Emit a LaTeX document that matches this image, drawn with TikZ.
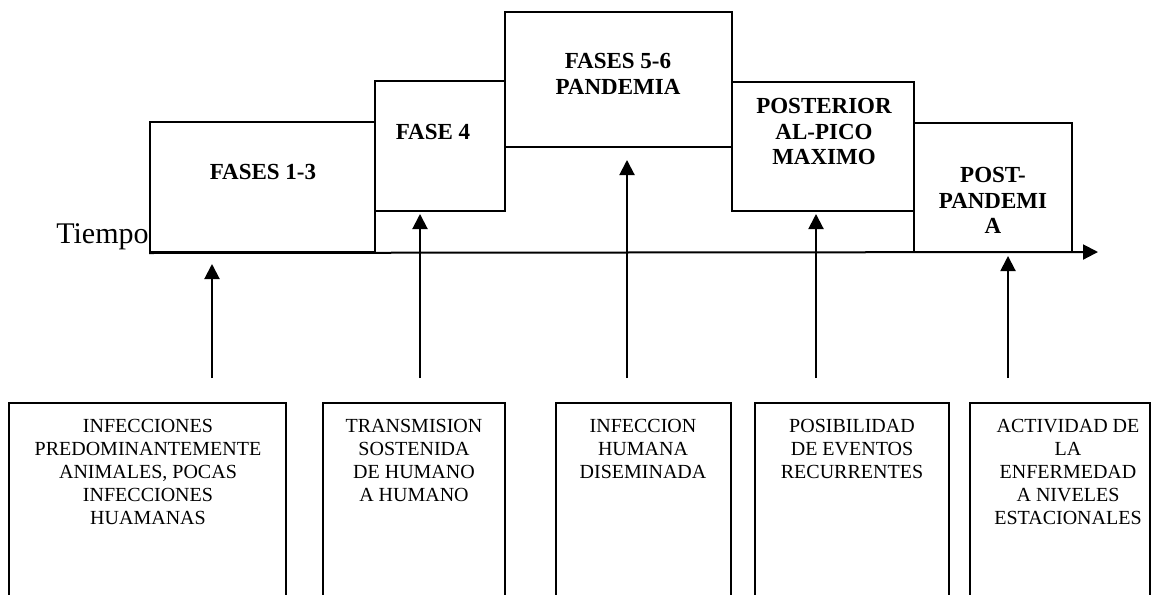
\documentclass[tikz,border=0pt]{standalone}
\usepackage{fontspec}
\setmainfont{Liberation Serif}
\usetikzlibrary{arrows.meta}

\begin{document}
\begin{tikzpicture}[x=0.5pt, y=-0.5pt,
    phase/.style={draw, line width=1pt, inner sep=0pt},
    phasetxt/.style={anchor=north, inner sep=0pt, align=center, font=\fontsize{11.5}{12.75}\selectfont\bfseries},
    note/.style={draw, line width=1pt, inner sep=0pt, anchor=north, minimum height=110pt},
    notetxt/.style={anchor=north, inner sep=0pt, align=center, font=\fontsize{10}{11.5}\selectfont},
    uparr/.style={line width=1pt, -{Triangle[length=7.5pt, width=7.5pt]}}]
    \clip (0,0) rectangle (1154,594);

    % Phase boxes along the time axis
    \node[phase, minimum width=112.5pt, minimum height=65pt] (f13) at (262.5,187) {};
    \node[phase, minimum width=65pt, minimum height=65pt] (f4) at (440,146) {};
    \node[phase, minimum width=113.5pt, minimum height=67.5pt] (f56) at (618.5,79.5) {};
    \node[phase, minimum width=91pt, minimum height=64.5pt] (post) at (823,146.5) {};
    \node[phase, minimum width=79pt, minimum height=64.5pt] (pp) at (993,187.5) {};

    \node[phasetxt] (f13t) at (263,164) {FASES 1-3};
    \node[phasetxt] (f4t) at (433,124) {FASE 4};
    \node[phasetxt] (f56t) at (618,53) {FASES 5-6\\PANDEMIA};
    \node[phasetxt] (postt) at (824,98) {POSTERIOR\\AL-PICO\\MAXIMO};
    \node[phasetxt] (ppt) at (993,167) {POST-\\PANDEMI\\A};

    % Timeline
    \node[anchor=base east, inner sep=0pt, font=\fontsize{15}{18}\selectfont] (tiempo) at (149,243) {Tiempo};
    \coordinate (tend) at (1098,252);
    \draw[uparr] (f13.south west) -- (tend);

    % Description boxes
    \node[note, minimum width=138.5pt] (b1) at (147.5,402) {};
    \node[note, minimum width=91pt] (b2) at (414,402) {};
    \node[note, minimum width=87.5pt] (b3) at (643.5,402) {};
    \node[note, minimum width=97pt] (b4) at (852,402) {};
    \node[note, minimum width=90pt] (b5) at (1060,402) {};

    \node[notetxt] (b1t) at (148,419) {INFECCIONES\\PREDOMINANTEMENTE\\ANIMALES, POCAS\\INFECCIONES\\HUAMANAS};
    \node[notetxt] (b2t) at (414,419) {TRANSMISION\\SOSTENIDA\\DE HUMANO\\A HUMANO};
    \node[notetxt] (b3t) at (643,419) {INFECCION\\HUMANA\\DISEMINADA};
    \node[notetxt] (b4t) at (852,419) {POSIBILIDAD\\DE EVENTOS\\RECURRENTES};
    \node[notetxt] (b5t) at (1068,419) {ACTIVIDAD DE\\LA\\ENFERMEDAD\\A NIVELES\\ESTACIONALES};

    % Arrows up to the phases
    \coordinate (a1) at (212,378);
    \coordinate (a2) at (420,378);
    \coordinate (a3) at (627,378);
    \coordinate (a4) at (816,378);
    \coordinate (a5) at (1008,378);
    \draw[uparr, shorten >=5.5pt] (a1) -- (a1 |- f13.south);
    \draw[uparr, shorten >=1pt] (a2) -- (a2 |- f4.south);
    \draw[uparr, shorten >=6pt] (a3) -- (a3 |- f56.south);
    \draw[uparr, shorten >=1pt] (a4) -- (a4 |- post.south);
    \draw[uparr, shorten >=1.5pt] (a5) -- (a5 |- pp.south);
\end{tikzpicture}
\end{document}
